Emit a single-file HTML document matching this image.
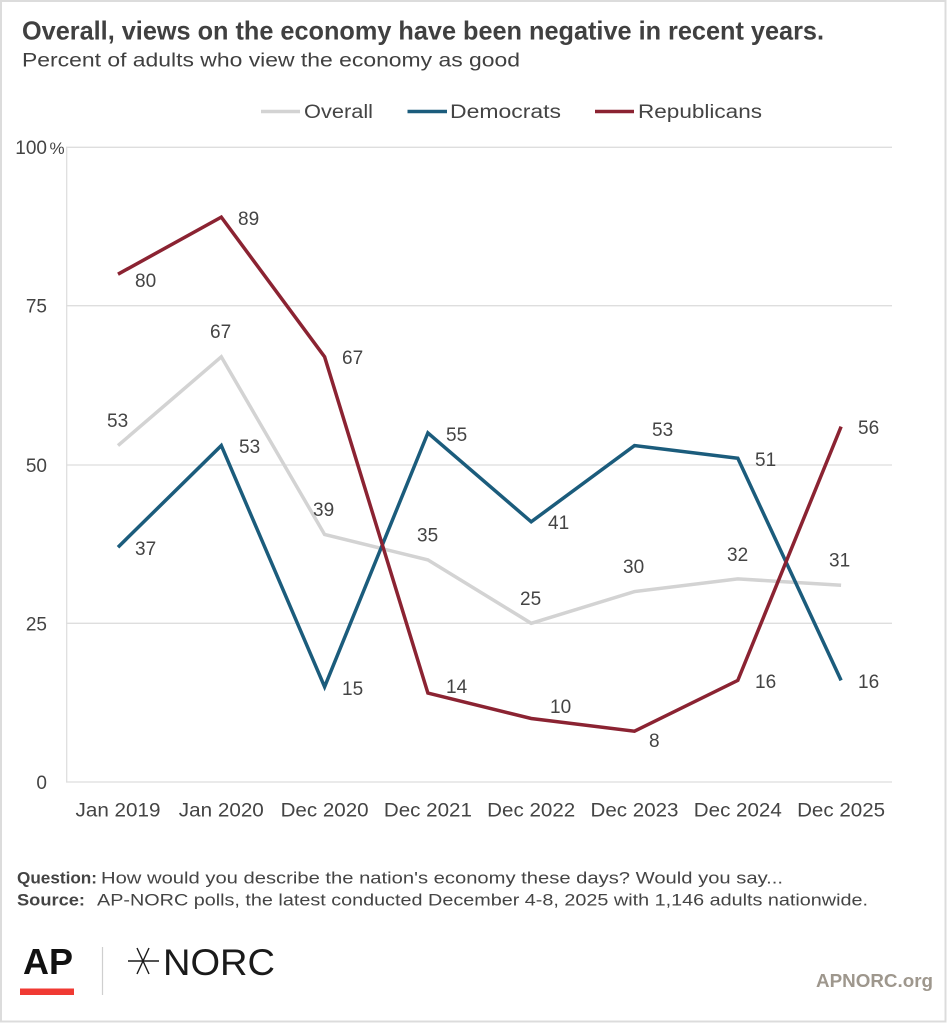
<!DOCTYPE html>
<html>
<head>
<meta charset="utf-8">
<style>
  html, body { margin: 0; padding: 0; background: #fff; }
  svg { display: block; }
  text { font-family: "Liberation Sans", Arial, sans-serif; }
</style>
</head>
<body>
<svg width="947" height="1024" viewBox="0 0 947 1024" xmlns="http://www.w3.org/2000/svg">
  <rect x="0" y="0" width="947" height="1024" fill="#fff"/>
  <rect x="1" y="1" width="944.5" height="1020.5" fill="none" stroke="#dcdcdc" stroke-width="2"/>

  <!-- Title -->
  <text x="22" y="39.5" font-size="26" font-weight="bold" fill="#404040" textLength="802" lengthAdjust="spacingAndGlyphs">Overall, views on the economy have been negative in recent years.</text>
  <text x="22" y="66.7" font-size="19" fill="#404040" textLength="498" lengthAdjust="spacingAndGlyphs">Percent of adults who view the economy as good</text>

  <!-- Legend -->
  <line x1="261" y1="111.5" x2="300" y2="111.5" stroke="#d3d3d3" stroke-width="3.5"/>
  <text x="304" y="118" font-size="19" fill="#444" textLength="69" lengthAdjust="spacingAndGlyphs">Overall</text>
  <line x1="407.5" y1="111.5" x2="447" y2="111.5" stroke="#1b5c7c" stroke-width="3.5"/>
  <text x="450" y="118" font-size="19" fill="#444" textLength="111" lengthAdjust="spacingAndGlyphs">Democrats</text>
  <line x1="595" y1="111.5" x2="634" y2="111.5" stroke="#8b2332" stroke-width="3.5"/>
  <text x="638" y="118" font-size="19" fill="#444" textLength="124" lengthAdjust="spacingAndGlyphs">Republicans</text>

  <!-- Gridlines -->
  <g stroke="#dedede" stroke-width="1.3">
    <line x1="66" y1="147.3" x2="892" y2="147.3"/>
    <line x1="66" y1="305.7" x2="892" y2="305.7"/>
    <line x1="66" y1="465" x2="892" y2="465"/>
    <line x1="66" y1="623.3" x2="892" y2="623.3"/>
    <line x1="66" y1="782" x2="892" y2="782"/>
    <line x1="66.7" y1="147.3" x2="66.7" y2="782"/>
  </g>

  <!-- Y-axis labels -->
  <g font-size="19" fill="#444" text-anchor="end">
    <text x="47" y="154">100</text>
    <text x="47" y="312.7">75</text>
    <text x="47" y="472">50</text>
    <text x="47" y="630.3">25</text>
    <text x="47" y="789">0</text>
  </g>
  <text x="49.5" y="154" font-size="17" fill="#444">%</text>

  <!-- X-axis labels -->
  <g font-size="19" fill="#444" text-anchor="middle">
    <text x="118" y="816.7" textLength="85" lengthAdjust="spacingAndGlyphs">Jan 2019</text>
    <text x="221.3" y="816.7" textLength="85" lengthAdjust="spacingAndGlyphs">Jan 2020</text>
    <text x="324.6" y="816.7" textLength="88" lengthAdjust="spacingAndGlyphs">Dec 2020</text>
    <text x="427.9" y="816.7" textLength="88" lengthAdjust="spacingAndGlyphs">Dec 2021</text>
    <text x="531.2" y="816.7" textLength="88" lengthAdjust="spacingAndGlyphs">Dec 2022</text>
    <text x="634.5" y="816.7" textLength="88" lengthAdjust="spacingAndGlyphs">Dec 2023</text>
    <text x="737.8" y="816.7" textLength="88" lengthAdjust="spacingAndGlyphs">Dec 2024</text>
    <text x="841.1" y="816.7" textLength="88" lengthAdjust="spacingAndGlyphs">Dec 2025</text>
  </g>

  <!-- Series -->
  <polyline fill="none" stroke="#d3d3d3" stroke-width="3.5" stroke-linejoin="miter"
    points="118,445.6 221.3,356.8 324.6,534.5 427.9,559.9 531.2,623.3 634.5,591.6 737.8,578.9 841.1,585.2"/>
  <polyline fill="none" stroke="#1b5c7c" stroke-width="3.5" stroke-linejoin="miter"
    points="118,547.2 221.3,445.6 324.6,686.8 427.9,432.9 531.2,521.8 634.5,445.6 737.8,458.3 841.1,680.4"/>
  <polyline fill="none" stroke="#8b2332" stroke-width="3.5" stroke-linejoin="miter"
    points="118,274.2 221.3,217.1 324.6,356.8 427.9,693.1 531.2,718.5 634.5,731.2 737.8,680.4 841.1,426.6"/>

  <!-- Data labels -->
  <g font-size="19" fill="#444">
    <!-- Overall -->
    <text x="107" y="427">53</text>
    <text x="210" y="338">67</text>
    <text x="313" y="516">39</text>
    <text x="417" y="541.7">35</text>
    <text x="520" y="605">25</text>
    <text x="623" y="573">30</text>
    <text x="727" y="561">32</text>
    <text x="829" y="566.7">31</text>
    <!-- Democrats -->
    <text x="135" y="555">37</text>
    <text x="239" y="453">53</text>
    <text x="342" y="695">15</text>
    <text x="446" y="441">55</text>
    <text x="548" y="529">41</text>
    <text x="652" y="436">53</text>
    <text x="755" y="466">51</text>
    <text x="858" y="688">16</text>
    <!-- Republicans -->
    <text x="135" y="287">80</text>
    <text x="238" y="225">89</text>
    <text x="342" y="364">67</text>
    <text x="446" y="693">14</text>
    <text x="550" y="713">10</text>
    <text x="649" y="747">8</text>
    <text x="755" y="688">16</text>
    <text x="858" y="434">56</text>
  </g>

  <!-- Footer notes -->
  <text x="17" y="883.3" font-size="17" font-weight="bold" fill="#444" textLength="80" lengthAdjust="spacingAndGlyphs">Question:</text>
  <text x="101" y="883.3" font-size="17" fill="#444" textLength="682" lengthAdjust="spacingAndGlyphs">How would you describe the nation's economy these days? Would you say...</text>
  <text x="17" y="905.7" font-size="17" font-weight="bold" fill="#444" textLength="68" lengthAdjust="spacingAndGlyphs">Source:</text>
  <text x="97" y="905.7" font-size="17" fill="#444" textLength="771" lengthAdjust="spacingAndGlyphs">AP-NORC polls, the latest conducted December 4-8, 2025 with 1,146 adults nationwide.</text>

  <!-- Logos -->
  <text x="23" y="974" font-size="36" font-weight="bold" fill="#111" textLength="50" lengthAdjust="spacingAndGlyphs">AP</text>
  <rect x="20" y="988.5" width="54" height="6.5" fill="#f03a33"/>
  <line x1="102.5" y1="947" x2="102.5" y2="995" stroke="#cfcfcf" stroke-width="1.2"/>
  <g stroke="#1a1a1a" stroke-width="1.4" fill="none">
    <line x1="128" y1="961" x2="159" y2="961"/>
    <line x1="137" y1="948" x2="149" y2="974"/>
    <line x1="149" y1="948" x2="137" y2="974"/>
  </g>
  <text x="163" y="975" font-size="37" fill="#1a1a1a" textLength="112" lengthAdjust="spacingAndGlyphs">NORC</text>
  <text x="816" y="987" font-size="18" font-weight="bold" fill="#9e978d" textLength="117" lengthAdjust="spacingAndGlyphs">APNORC.org</text>
</svg>
</body>
</html>
